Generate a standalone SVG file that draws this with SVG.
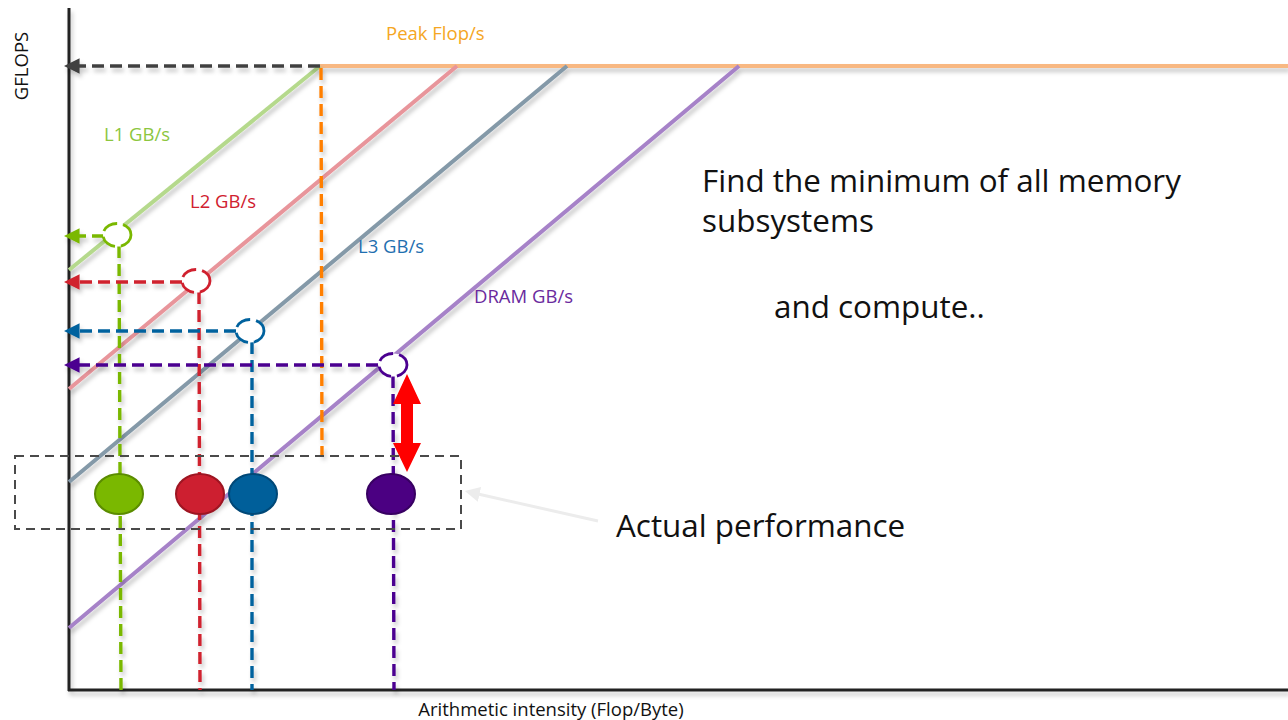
<svg xmlns="http://www.w3.org/2000/svg" width="1288" height="720" viewBox="0 0 1288 720">
  <style>
    .roof { fill: none; stroke-width: 4; stroke-linecap: butt; }
    .dash { fill: none; stroke-width: 3.4; stroke-dasharray: 12 6; }
    .halo { fill: #ffffff; stroke-width: 2.8; stroke-dasharray: 16 6; }
    .lbl { font-family: "Open Sans", "Liberation Sans", sans-serif; font-size: 18.5px; }
    .big { font-family: "Open Sans", "Liberation Sans", sans-serif; font-size: 31.4px; fill: #111111; }
    .axis-lbl { font-family: "Open Sans", "Liberation Sans", sans-serif; font-size: 18.5px; fill: #111111; }
  </style>
  <defs>
    <filter id="shadow" x="-10%" y="-10%" width="120%" height="130%">
      <feDropShadow dx="2" dy="4" stdDeviation="2.2" flood-color="#000000" flood-opacity="0.22"/>
    </filter>
    <marker id="ahDark" viewBox="0 0 10 10" refX="1" refY="5" markerWidth="4.6" markerHeight="4.6" orient="auto-start-reverse" markerUnits="strokeWidth">
      <path d="M0,0 L10,5 L0,10 z" fill="#404040"/>
    </marker>
    <marker id="ahGreen" viewBox="0 0 10 10" refX="1" refY="5" markerWidth="4.6" markerHeight="4.6" orient="auto-start-reverse" markerUnits="strokeWidth">
      <path d="M0,0 L10,5 L0,10 z" fill="#7AB800"/>
    </marker>
    <marker id="ahRed" viewBox="0 0 10 10" refX="1" refY="5" markerWidth="4.6" markerHeight="4.6" orient="auto-start-reverse" markerUnits="strokeWidth">
      <path d="M0,0 L10,5 L0,10 z" fill="#D0202E"/>
    </marker>
    <marker id="ahBlue" viewBox="0 0 10 10" refX="1" refY="5" markerWidth="4.6" markerHeight="4.6" orient="auto-start-reverse" markerUnits="strokeWidth">
      <path d="M0,0 L10,5 L0,10 z" fill="#00629E"/>
    </marker>
    <marker id="ahPurple" viewBox="0 0 10 10" refX="1" refY="5" markerWidth="4.6" markerHeight="4.6" orient="auto-start-reverse" markerUnits="strokeWidth">
      <path d="M0,0 L10,5 L0,10 z" fill="#4B0090"/>
    </marker>
    <marker id="ahFaint" viewBox="0 0 10 10" refX="1" refY="5" markerWidth="5" markerHeight="5" orient="auto-start-reverse" markerUnits="strokeWidth">
      <path d="M0,0 L10,5 L0,10 z" fill="#ececec"/>
    </marker>
  </defs>

  <rect width="1288" height="720" fill="#ffffff"/>

  <!-- axes -->
  <g id="axes" filter="url(#shadow)" stroke="#222222" stroke-width="3" fill="none">
    <line x1="69" y1="8" x2="69" y2="691"/>
    <line x1="68" y1="690" x2="1288" y2="690"/>
  </g>
  <text class="axis-lbl" transform="translate(28,66) rotate(-90)" text-anchor="middle">GFLOPS</text>
  <text class="axis-lbl" x="551" y="716" text-anchor="middle">Arithmetic intensity (Flop/Byte)</text>

  <!-- roofline ceilings -->
  <g id="ceilings" filter="url(#shadow)">
    <line class="roof" x1="320" y1="66" x2="1288" y2="66" stroke="#F8B882"/>
    <line class="roof" x1="69" y1="270" x2="320" y2="66" stroke="#B5D98C"/>
    <line class="roof" x1="69" y1="389" x2="457" y2="66" stroke="#E8959B"/>
    <line class="roof" x1="69" y1="482" x2="567" y2="66" stroke="#8499A8"/>
    <line class="roof" x1="69" y1="628" x2="739" y2="66" stroke="#A682C8"/>
  </g>

  <g id="ceiling-labels">
    <text class="lbl" x="386" y="40" fill="#F5A623">Peak Flop/s</text>
    <text class="lbl" x="104" y="141" fill="#8CC63E">L1 GB/s</text>
    <text class="lbl" x="190" y="208" fill="#D0202E">L2 GB/s</text>
    <text class="lbl" x="358" y="253" fill="#1F6FB0">L3 GB/s</text>
    <text class="lbl" x="474" y="303" fill="#6A2A9E">DRAM GB/s</text>
  </g>

  <!-- projection connectors -->
  <g id="connectors" filter="url(#shadow)">
    <line class="dash" x1="320" y1="66" x2="78" y2="66" stroke="#404040" marker-end="url(#ahDark)"/>
    <line class="dash" x1="321" y1="68" x2="322" y2="456" stroke="#FF7F00"/>

    <line class="dash" x1="104" y1="236" x2="78" y2="236" stroke="#7AB800" marker-end="url(#ahGreen)"/>
    <line class="dash" x1="119" y1="246" x2="121" y2="690" stroke="#7AB800"/>

    <line class="dash" x1="182" y1="282" x2="78" y2="282" stroke="#D0202E" marker-end="url(#ahRed)"/>
    <line class="dash" x1="199" y1="292" x2="200" y2="690" stroke="#D0202E"/>

    <line class="dash" x1="236" y1="331" x2="78" y2="331" stroke="#00629E" marker-end="url(#ahBlue)"/>
    <line class="dash" x1="252" y1="342" x2="252" y2="690" stroke="#00629E"/>

    <line class="dash" x1="378" y1="365" x2="78" y2="365" stroke="#4B0090" marker-end="url(#ahPurple)"/>
    <line class="dash" x1="393" y1="376" x2="394" y2="690" stroke="#4B0090"/>
  </g>

  <!-- intersection markers -->
  <g id="intersections">
    <ellipse class="halo" cx="117" cy="235" rx="14" ry="11.5" stroke="#7AB800"/>
    <ellipse class="halo" cx="196" cy="281" rx="14" ry="11.5" stroke="#D0202E"/>
    <ellipse class="halo" cx="250" cy="331" rx="14" ry="11.5" stroke="#00629E"/>
    <ellipse class="halo" cx="393" cy="365" rx="14" ry="11.5" stroke="#4B0090"/>
  </g>

  <!-- actual performance group -->
  <g id="actual-box">
    <rect x="15" y="456" width="446" height="73" fill="none" stroke="#4a4a4a" stroke-width="2" stroke-dasharray="9 6"/>
  </g>
  <g id="actual-points">
    <ellipse cx="119" cy="494" rx="24" ry="20" fill="#7AB800" stroke="#5B8C00" stroke-width="2"/>
    <ellipse cx="200" cy="494" rx="24" ry="20" fill="#CD1F30" stroke="#9E1522" stroke-width="2"/>
    <ellipse cx="253" cy="494" rx="24" ry="20" fill="#005F9A" stroke="#004877" stroke-width="2"/>
    <ellipse cx="391" cy="494" rx="24" ry="20" fill="#4B0082" stroke="#380062" stroke-width="2"/>
  </g>

  <!-- gap between DRAM bound and measured point -->
  <g id="gap-arrow">
    <path d="M407,374 L421,404 L413,404 L413,443 L421,443 L407,472 L393,443 L401,443 L401,404 L393,404 Z" fill="#FF0000"/>
  </g>

  <!-- pointer from caption to box -->
  <g id="caption-pointer">
    <line x1="598" y1="521" x2="478" y2="494" stroke="#ececec" stroke-width="3" marker-end="url(#ahFaint)"/>
  </g>

  <g id="notes">
    <text class="big" x="702" y="192">Find the minimum of all memory</text>
    <text class="big" x="702" y="232">subsystems</text>
    <text class="big" x="774" y="318">and compute..</text>
    <text class="big" x="616" y="537">Actual performance</text>
  </g>
</svg>
